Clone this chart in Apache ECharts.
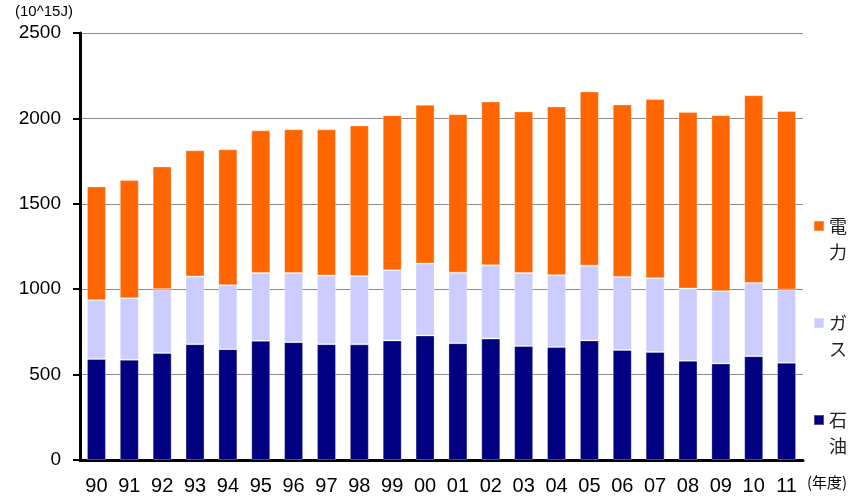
<!DOCTYPE html>
<html>
<head>
<meta charset="utf-8">
<script src="https://cdn.jsdelivr.net/npm/echarts@6/dist/echarts.min.js"></script>
<style>
  html, body { margin: 0; padding: 0; background: #fff; }
  #chart { width: 852px; height: 498px; }
</style>
</head>
<body>
<div id="chart"></div>
<script>
// Fiscal years (年度)
const years = ['90','91','92','93','94','95','96','97','98','99','00','01','02','03','04','05','06','07','08','09','10','11'];
// Energy consumption by source, unit 10^15 J
const oil = [592,587,626,678,649,698,690,678,677,700,729,684,711,667,661,700,644,632,581,565,608,569];
const gas = [344,360,374,396,374,397,405,402,400,411,421,413,429,428,421,438,428,432,423,423,429,429];
const electricity = [666,692,719,739,796,835,842,856,882,908,930,928,959,946,988,1020,1010,1049,1033,1031,1099,1045];
// Value axis ticks
const yTicks = [0, 500, 1000, 1500, 2000, 2500];

const latin = '"Liberation Sans", Arial, sans-serif';
const cjk = '"Noto Sans CJK JP", "Liberation Sans", sans-serif';

const chart = echarts.init(document.getElementById('chart'));

function barSeries(name, data, color) {
  return {
    name: name,
    type: 'bar',
    stack: 'total',
    data: data,
    barWidth: 19,
    itemStyle: { color: color, borderColor: 'rgba(255,255,255,0.3)', borderWidth: 1 }
  };
}

chart.setOption({
  animation: false,
  grid: { left: 80, right: 49, top: 33, bottom: 38 },
  graphic: [
    { type: 'text', left: 15, top: 4, style: { text: '(10^15J)', font: '15px ' + latin, fill: '#000' } },
    { type: 'text', left: 807, top: 475, style: { text: '(年度)', font: '15px ' + cjk, fill: '#000' } }
  ],
  legend: {
    orient: 'vertical',
    left: 808,
    top: 182,
    itemGap: 19,
    itemWidth: 10,
    itemHeight: 10,
    icon: 'rect',
    selectedMode: false,
    data: ['電力', 'ガス', '石油'],
    formatter: function (name) { return ' \n' + name.split('').join('\n'); },
    textStyle: { fontFamily: cjk, fontSize: 18, lineHeight: 26, color: '#222' }
  },
  xAxis: {
    type: 'category',
    data: years,
    axisLine: { lineStyle: { color: '#000', width: 3 } },
    axisTick: { show: false },
    axisLabel: { color: '#000', fontFamily: latin, fontSize: 20, margin: 16, interval: 0 }
  },
  yAxis: {
    type: 'value',
    min: yTicks[0],
    max: yTicks[yTicks.length - 1],
    interval: yTicks[1] - yTicks[0],
    axisLine: { show: true, lineStyle: { color: '#000', width: 3 } },
    axisTick: { show: true, length: 7, lineStyle: { color: '#000', width: 2 } },
    axisLabel: {
      color: '#000', fontFamily: latin, fontSize: 19, margin: 19,
      formatter: function (v) { return String(v); }
    },
    splitLine: { lineStyle: { color: '#8c8c8c', width: 1 } }
  },
  series: [
    barSeries('石油', oil, '#000080'),
    barSeries('ガス', gas, '#CCCCFF'),
    barSeries('電力', electricity, '#FF6600')
  ]
});
</script>
</body>
</html>
